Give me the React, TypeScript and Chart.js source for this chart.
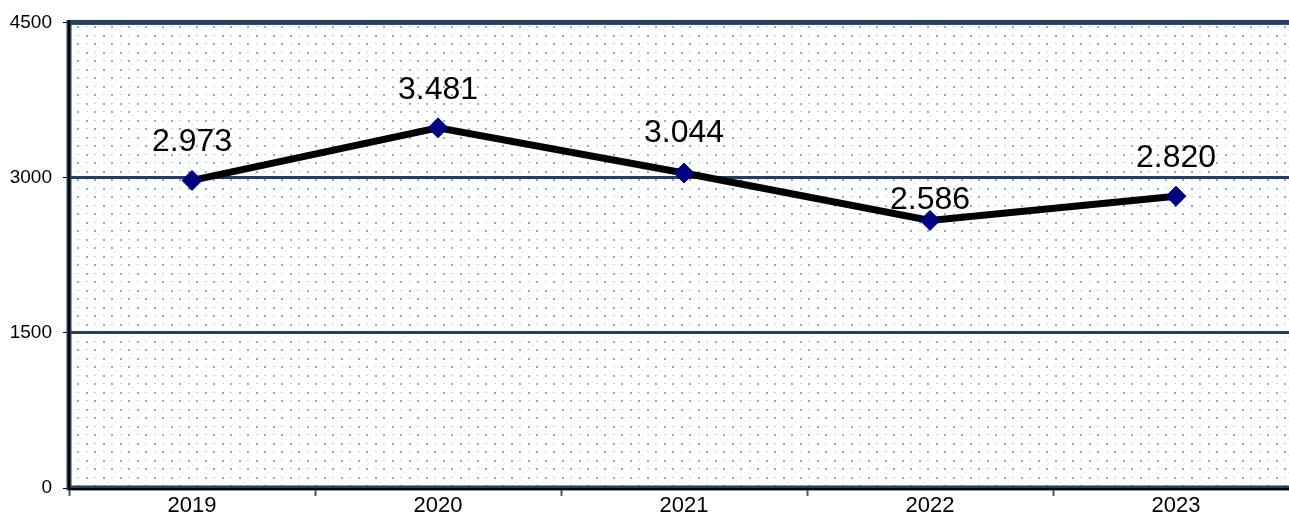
import React, { useEffect, useRef } from "react";
import { Chart, registerables } from "chart.js";

Chart.register(...registerables);

const categories = ["2019", "2020", "2021", "2022", "2023"];
const values = [2973, 3481, 3044, 2586, 2820];
const valueLabels = ["2.973", "3.481", "3.044", "2.586", "2.820"];
const yTicks = [0, 1500, 3000, 4500];

const FONT = "'Liberation Sans', Arial, sans-serif";
const labelLift = [38, 38, 40, 20, 38];

function makePattern(ctx: CanvasRenderingContext2D) {
  const c = document.createElement("canvas");
  c.width = 17;
  c.height = 17;
  const p = c.getContext("2d")!;
  p.fillStyle = "#ffffff";
  p.fillRect(0, 0, 17, 17);
  p.fillStyle = "#84ACDF";
  p.fillRect(1, 1, 2, 2);
  p.fillRect(9, 9, 2, 2);
  p.fillStyle = "#B9D0EE";
  p.fillRect(9, 1, 2, 1);
  p.fillRect(1, 9, 2, 1);
  p.fillStyle = "#D5E2F3";
  p.fillRect(5, 5, 1, 1);
  p.fillRect(13, 13, 1, 1);
  return ctx.createPattern(c, "repeat");
}

const bgPlugin = {
  id: "bgPlugin",
  beforeDraw(chart: any) {
    const { ctx, chartArea: a } = chart;
    ctx.save();
    ctx.fillStyle = "#ffffff";
    ctx.fillRect(0, 0, chart.width, chart.height);
    const pat = makePattern(ctx);
    if (pat) {
      ctx.fillStyle = pat;
      ctx.fillRect(a.left, a.top, a.right - a.left, a.bottom - a.top);
    }
    ctx.restore();
  },
  beforeDatasetsDraw(chart: any) {
    const { ctx, chartArea: a } = chart;
    ctx.save();
    ctx.strokeStyle = "#243F60";
    ctx.lineWidth = 5;
    ctx.strokeRect(a.left, a.top, a.right - a.left, a.bottom - a.top);
    ctx.strokeStyle = "#000000";
    ctx.lineWidth = 2;
    ctx.beginPath();
    ctx.moveTo(a.left, a.top - 2);
    ctx.lineTo(a.left, a.bottom + 1);
    ctx.lineTo(a.right, a.bottom + 1);
    ctx.stroke();
    ctx.restore();
  },
  afterDatasetsDraw(chart: any) {
    const { ctx } = chart;
    const meta = chart.getDatasetMeta(0);
    ctx.save();
    ctx.font = `32px ${FONT}`;
    ctx.fillStyle = "#000000";
    ctx.textAlign = "center";
    ctx.textBaseline = "middle";
    meta.data.forEach((pt: any, i: number) => {
      ctx.fillText(valueLabels[i], pt.x, pt.y - labelLift[i]);
    });
    ctx.restore();
  },
};

export default function App() {
  const ref = useRef<HTMLCanvasElement>(null);
  useEffect(() => {
    if (!ref.current) return;
    const chart = new Chart(ref.current, {
      type: "line",
      data: {
        labels: categories,
        datasets: [
          {
            data: values,
            borderColor: "#000000",
            borderWidth: 7,
            pointStyle: "rectRot",
            pointRadius: 10,
            pointBackgroundColor: "#000080",
            pointBorderColor: "#000080",
            pointBorderWidth: 1,
            tension: 0,
          },
        ],
      },
      options: {
        animation: false,
        responsive: false,
        maintainAspectRatio: false,
        layout: { padding: { top: 21, right: 10, left: 0, bottom: 0 } },
        plugins: { legend: { display: false }, tooltip: { enabled: false } },
        scales: {
          x: {
            type: "category",
            offset: true,
            border: { display: false },
            grid: {
              offset: true,
              drawOnChartArea: false,
              drawTicks: true,
              tickLength: 8,
              tickColor: "#555555",
              tickWidth: 2,
            },
            ticks: {
              font: { family: FONT, size: 22 },
              color: "#000000",
              padding: -3,
            },
            afterFit(scale: any) {
              scale.height = 27;
            },
          },
          y: {
            min: 0,
            max: 4500,
            afterBuildTicks(scale: any) {
              scale.ticks = yTicks.map((v) => ({ value: v }));
            },
            border: { display: false },
            grid: {
              color: "#243F60",
              lineWidth: 3,
              tickLength: 6,
              tickColor: "#000000",
              tickWidth: 1,
            },
            ticks: {
              font: { family: FONT, size: 19 },
              color: "#000000",
              padding: 11,
              callback: (v: any) => String(v),
            },
            afterFit(scale: any) {
              scale.width = 69;
            },
          },
        },
      },
      plugins: [bgPlugin],
    } as any);
    return () => chart.destroy();
  }, []);
  return (
    <div
      style={{
        position: "fixed",
        left: 0,
        top: 0,
        width: 1289,
        height: 515,
        overflow: "hidden",
        background: "#fff",
      }}
    >
      <canvas ref={ref} width={1310} height={515} style={{ display: "block" }} />
    </div>
  );
}
